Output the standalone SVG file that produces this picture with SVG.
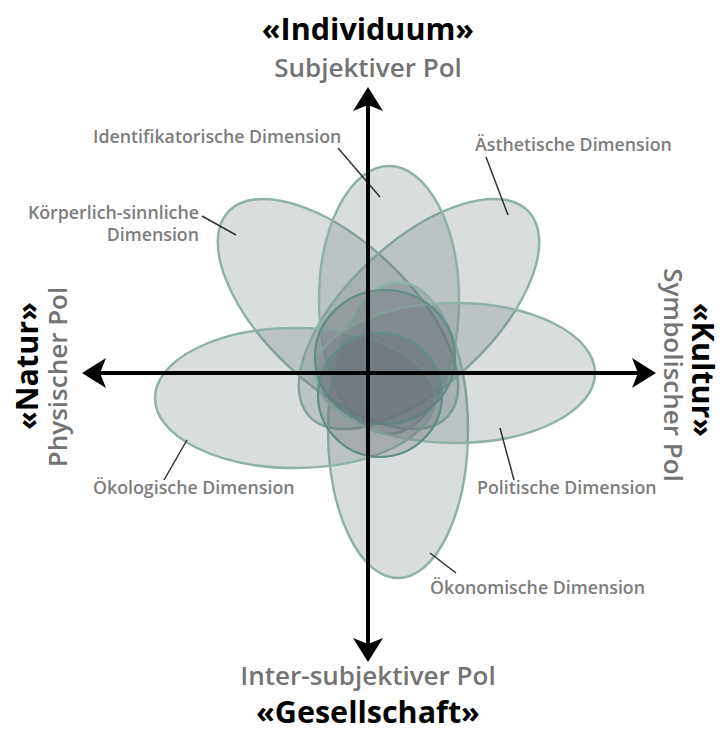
<svg xmlns="http://www.w3.org/2000/svg" width="726" height="733" viewBox="0 0 726 733">
<defs>
<style>
.ell{fill:rgb(105,118,124);fill-opacity:0.25;stroke:#8fb2a6;stroke-width:2.5}
.inner{fill:rgb(95,100,110);fill-opacity:0.25;stroke:#5f8d88;stroke-width:2.2}
.lbl{font-family:"Open Sans","Noto Sans","Liberation Sans",sans-serif;font-weight:600;font-size:17.8px;fill:#7d7d7d}
.lead{stroke:#333;stroke-width:1.5;fill:none}
.head{font-family:"Open Sans","Noto Sans","Liberation Sans",sans-serif;font-weight:700;font-size:30.5px;fill:#000}
.pol{font-family:"Open Sans","Noto Sans","Liberation Sans",sans-serif;font-weight:600;font-size:26px;fill:#737373}
.axis{stroke:#000;stroke-width:4;fill:none}
</style>
<marker id="arr" viewBox="-1 -16 26 32" refX="16" refY="0" markerWidth="26" markerHeight="32" markerUnits="userSpaceOnUse" orient="auto-start-reverse">
<path d="M24 0 L0 -15 L6 0 L0 15 Z" fill="#000"/>
</marker>
</defs>
<rect width="726" height="733" fill="#fff"/>

<g id="koerperlich">
<ellipse class="ell" cx="338" cy="314" rx="150" ry="72" transform="rotate(43 338 314)"/>
<line class="lead" x1="202" y1="216" x2="236" y2="235"/>
<text class="lbl" x="199" y="219" text-anchor="end">Körperlich-sinnliche</text>
<text class="lbl" x="199" y="241" text-anchor="end">Dimension</text>
</g>
<g id="aesthetisch">
<ellipse class="ell" cx="419" cy="314" rx="150" ry="72" transform="rotate(-43 419 314)"/>
<line class="lead" x1="486" y1="157" x2="508" y2="215"/>
<text class="lbl" x="475" y="151">Ästhetische Dimension</text>
</g>
<g id="identifikatorisch">
<ellipse class="ell" cx="389" cy="300" rx="70" ry="134"/>
<line class="lead" x1="338" y1="148" x2="380" y2="197"/>
<text class="lbl" x="93" y="143">Identifikatorische Dimension</text>
</g>
<g id="oekonomisch">
<ellipse class="ell" cx="398" cy="430" rx="70" ry="148"/>
<line class="lead" x1="430" y1="553" x2="456" y2="573"/>
<text class="lbl" x="430" y="594">Ökonomische Dimension</text>
</g>
<g id="oekologisch">
<ellipse class="ell" cx="295" cy="398" rx="140" ry="70"/>
<line class="lead" x1="187" y1="440" x2="164" y2="480"/>
<text class="lbl" x="93" y="494">Ökologische Dimension</text>
</g>
<g id="politisch">
<ellipse class="ell" cx="455" cy="373" rx="140" ry="70"/>
<line class="lead" x1="500" y1="428" x2="514" y2="480"/>
<text class="lbl" x="477" y="494">Politische Dimension</text>
</g>
<g id="kern">
<ellipse class="inner" cx="385" cy="357" rx="70" ry="67"/>
<ellipse class="inner" cx="380" cy="395" rx="62" ry="62"/>
</g>

<g id="connectors">
<line class="axis" x1="368" y1="95" x2="368" y2="654" marker-start="url(#arr)" marker-end="url(#arr)"/>
<line class="axis" x1="90" y1="373" x2="648" y2="373" marker-start="url(#arr)" marker-end="url(#arr)"/>
</g>

<g id="pole-individuum">
<text class="head" x="368" y="40" text-anchor="middle">«Individuum»</text>
<text class="pol" x="368" y="77" text-anchor="middle">Subjektiver Pol</text>
</g>
<g id="pole-gesellschaft">
<text class="pol" x="368" y="685" text-anchor="middle">Inter-subjektiver Pol</text>
<text class="head" x="368" y="723" text-anchor="middle">«Gesellschaft»</text>
</g>
<g id="pole-natur">
<text class="head" transform="translate(38 366) rotate(-90)" text-anchor="middle">«Natur»</text>
<text class="pol" transform="translate(67 377) rotate(-90)" text-anchor="middle">Physischer Pol</text>
</g>
<g id="pole-kultur">
<text class="head" transform="translate(692 370) rotate(90)" text-anchor="middle">«Kultur»</text>
<text class="pol" transform="translate(664 375) rotate(90)" text-anchor="middle">Symbolischer Pol</text>
</g>
</svg>
